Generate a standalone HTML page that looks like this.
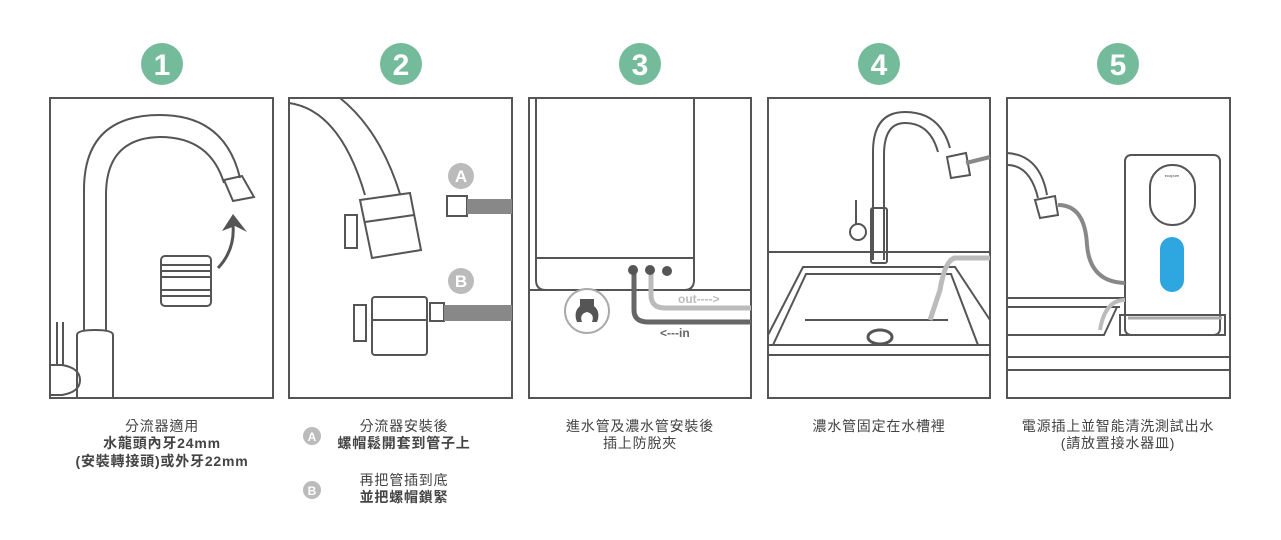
<!DOCTYPE html>
<html><head><meta charset="utf-8"><style>
body{margin:0;background:#fff;width:1281px;height:540px;overflow:hidden}
svg{display:block}
text{font-family:"Liberation Sans","Noto Sans CJK TC",sans-serif;fill:#444;font-size:13px}
.c text{font-size:14px;letter-spacing:0.8px}
</style></head><body>
<svg width="1281" height="540" viewBox="0 0 1281 540">
<g fill="#74bb9b"><circle cx="162" cy="64" r="21"/><circle cx="401" cy="64" r="21"/><circle cx="640" cy="64" r="21"/><circle cx="879" cy="64" r="21"/><circle cx="1118" cy="64" r="21"/></g>
<g text-anchor="middle">
<text x="162" y="75" style="fill:#fff;font-size:30px;font-weight:bold">1</text>
<text x="401" y="75" style="fill:#fff;font-size:30px;font-weight:bold">2</text>
<text x="640" y="75" style="fill:#fff;font-size:30px;font-weight:bold">3</text>
<text x="879" y="75" style="fill:#fff;font-size:30px;font-weight:bold">4</text>
<text x="1118" y="75" style="fill:#fff;font-size:30px;font-weight:bold">5</text>
</g>
<g fill="none" stroke="#555" stroke-width="2">
<rect x="50" y="98" width="223" height="300"/>
<rect x="289" y="98" width="223" height="300"/>
<rect x="529" y="98" width="222" height="300"/>
<rect x="768" y="98" width="222" height="300"/>
<rect x="1007" y="98" width="223" height="300"/>
<!-- panel1 faucet -->
<path d="M84 330 V190 Q84 115 160 115 Q225 115 240 178"/>
<path d="M106 330 V195 Q106 138 160 137 Q210 137 224 183"/>
<path d="M77 398 V335 Q77 330 95 330 Q113 330 113 335 V398"/>
<path d="M50 365 H62 Q80 368 80 380 Q80 392 62 395 H50"/><path d="M57 322 V365"/><path d="M63 322 V365"/>
<path d="M224 180 L242 176 L254 197 L233 201 Z"/>
<rect x="161" y="256" width="50" height="50" rx="4"/>
<path d="M161 265 H211 M161 271 H211 M161 277 H211 M161 290 H211 M161 296 H211"/>
<!-- panel2 -->
<path d="M289 103 Q340 110 365 195"/><path d="M340 98 Q380 130 400 194"/>
<path d="M360 200 L410 193 L421 250 L372 258 Z"/><path d="M365 222 L414 215"/>
<rect x="345" y="215" width="12" height="33"/>
<rect x="372" y="297" width="55" height="58" rx="3"/><path d="M372 320 H427"/><rect x="354" y="305" width="12" height="36"/>
<rect x="430" y="303" width="14" height="18"/><rect x="447" y="196" width="20" height="20"/>
</g>
<path d="M218 268 Q235 250 233 225" fill="none" stroke="#555" stroke-width="3"/>
<path d="M222 231 L233 214 L247 232 L235 226 Z" fill="#555"/>
<g fill="#888"><rect x="467" y="199" width="45" height="15"/><rect x="444" y="305" width="68" height="16"/></g>
<circle cx="461" cy="176" r="13" fill="#bbb"/><text x="461" y="182" text-anchor="middle" style="fill:#fff;font-weight:bold;font-size:17px">A</text>
<circle cx="461" cy="281" r="13" fill="#bbb"/><text x="461" y="287" text-anchor="middle" style="fill:#fff;font-weight:bold;font-size:17px">B</text>
<!-- panel3 -->
<g fill="none" stroke="#555" stroke-width="2">
<path d="M536 98 V280 Q536 290 546 290 H684 Q694 290 694 280 V98"/><path d="M536 258 H694"/><path d="M529 290 H751"/>
</g>
<path d="M651 270 V295 Q651 308 665 308 H751" fill="none" stroke="#bbb" stroke-width="5"/>
<path d="M634 270 V310 Q634 322 648 322 H751" fill="none" stroke="#666" stroke-width="5"/>
<circle cx="633" cy="270" r="5" fill="#555"/><circle cx="650" cy="270" r="5" fill="#555"/><circle cx="667" cy="271" r="5" fill="#555"/>
<circle cx="587" cy="311" r="22" fill="#fff" stroke="#aaa" stroke-width="2"/>
<path d="M580 299 H594 V306 Q601 312 597 322 L592 322 Q595 314 587 312 Q579 314 582 322 L577 322 Q573 312 580 306 Z" fill="#555"/>
<text x="678" y="303" style="fill:#bbb;font-size:12px;font-weight:bold">out----&gt;</text>
<text x="660" y="337" style="fill:#666;font-size:12px;font-weight:bold">&lt;---in</text>
<!-- panel4 -->
<g fill="none" stroke="#555" stroke-width="2">
<path d="M768 252 H990"/><path d="M768 355 H990 M768 345 H990"/>
<path d="M768 335 L803 267 H955 L990 320"/><path d="M773 345 L806 274 H951 L978 345"/><path d="M805 320 H948"/>
<path d="M873 260 V152 Q873 112 905 112 Q940 112 950 148"/><path d="M884 260 V155 Q884 123 905 123 Q930 123 938 152"/>
<rect x="871" y="208" width="16" height="55" rx="2"/><path d="M947 157 L966 153 L970 175 L951 178 Z"/>
<circle cx="858" cy="232" r="8"/><path d="M856 200 V225"/>
</g>
<ellipse cx="880" cy="337" rx="12" ry="7" fill="#fff" stroke="#555" stroke-width="3"/>
<path d="M990 258 H955 Q945 260 940 290 L930 320" fill="none" stroke="#bbb" stroke-width="5"/>
<path d="M966 163 L990 157" stroke="#888" stroke-width="4"/>
<!-- panel5 -->
<g fill="none" stroke="#555" stroke-width="2">
<path d="M1007 153 Q1040 155 1047 195"/><path d="M1007 165 Q1030 165 1038 198"/>
<path d="M1035 200 L1055 196 L1058 215 L1040 218 Z"/>
<path d="M1007 298 H1125 M1007 307 H1120 M1007 335 H1104 L1117 307"/>
<path d="M1007 357 H1230 M1007 370 H1230"/>
<rect x="1125" y="155" width="95" height="180" rx="6"/><rect x="1150" y="165" width="45" height="60" rx="22"/>
<path d="M1120 315 H1225 V335 H1120 Z"/>
</g>
<path d="M1058 205 Q1085 205 1087 245 Q1090 282 1125 283" fill="none" stroke="#888" stroke-width="4"/>
<path d="M1125 300 Q1105 300 1100 330" fill="none" stroke="#bbb" stroke-width="4"/>
<path d="M1128 318 H1222" stroke="#aaa" stroke-width="3"/>
<rect x="1160" y="237" width="24" height="55" rx="12" fill="#2ea6df"/>
<text x="1172" y="177" text-anchor="middle" style="font-size:4px">ecopure</text>
<!-- captions -->
<g text-anchor="middle" class="c">
<text x="162" y="431">分流器適用</text>
<text x="162" y="448" style="font-weight:bold">水龍頭內牙24mm</text>
<text x="162" y="466" style="font-weight:bold">(安裝轉接頭)或外牙22mm</text>
<text x="404" y="431">分流器安裝後</text>
<text x="404" y="448" style="font-weight:bold">螺帽鬆開套到管子上</text>
<text x="404" y="485">再把管插到底</text>
<text x="404" y="502" style="font-weight:bold">並把螺帽鎖緊</text>
<text x="640" y="431">進水管及濃水管安裝後</text>
<text x="640" y="448">插上防脫夾</text>
<text x="879" y="431">濃水管固定在水槽裡</text>
<text x="1118" y="431">電源插上並智能清洗測試出水</text>
<text x="1118" y="448">(請放置接水器皿)</text>
</g>
<circle cx="312" cy="436" r="9" fill="#bbb"/><text x="312" y="441" text-anchor="middle" style="fill:#fff;font-size:12px;font-weight:bold">A</text>
<circle cx="312" cy="490" r="9" fill="#bbb"/><text x="312" y="495" text-anchor="middle" style="fill:#fff;font-size:12px;font-weight:bold">B</text>
</svg>
</body></html>
